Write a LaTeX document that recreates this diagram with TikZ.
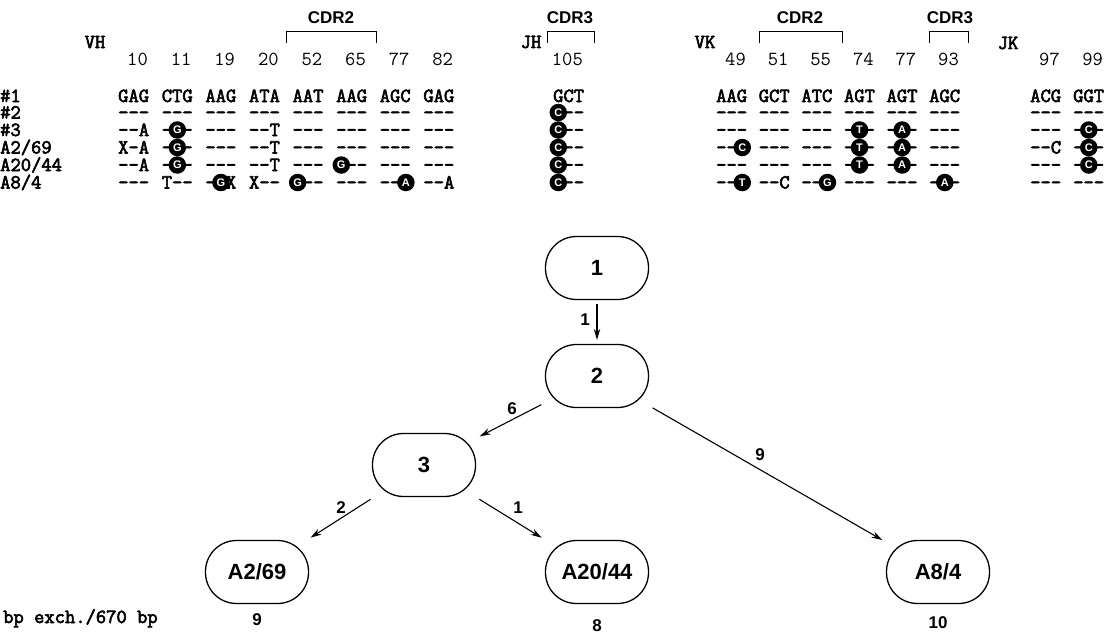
\documentclass[tikz,border=0pt]{standalone}
\usepackage{fontspec}
\setsansfont{Liberation Sans}
\newfontfamily\tybold{Latin Modern Mono}[FakeBold=3]
\usetikzlibrary{arrows.meta}
\begin{document}
\begin{tikzpicture}[x=1pt,y=-1pt,
  cod/.style={font=\tybold\fontsize{20}{22}\selectfont, inner sep=0pt, anchor=base west},
  num/.style={font=\ttfamily\fontsize{20}{22}\selectfont, inner sep=0pt, anchor=base east},
  lab/.style={font=\tybold\fontsize{20}{22}\selectfont, inner sep=0pt},
  cdr/.style={font=\sffamily\bfseries\fontsize{17}{17}\selectfont, inner sep=0pt},
  brk/.style={line width=1pt},
  mut/.style={circle, fill=black, inner sep=0pt, minimum size=17.5pt, text=white, font=\sffamily\bfseries\fontsize{11}{11}\selectfont},
  tree/.style={draw, line width=1.3pt, rounded corners=31pt, minimum width=103pt, minimum height=63pt, inner sep=0pt, font=\sffamily\bfseries\fontsize{22}{22}\selectfont},
  arr/.style={line width=1.1pt, -{Stealth[length=11pt,width=6.5pt]}, shorten <=4pt, shorten >=4pt},
  elab/.style={font=\sffamily\bfseries\fontsize{17}{17}\selectfont, inner sep=0pt}]
\useasboundingbox (0,0) rectangle (1107,632);
% column left edges
\def\cA{118}\def\cB{161.6}\def\cC{205.2}\def\cD{248.8}\def\cE{292.4}\def\cF{336}\def\cG{379.6}\def\cH{423.2}
\def\jA{553}
\def\kA{716}\def\kB{758.6}\def\kC{801.2}\def\kD{843.8}\def\kE{886.4}\def\kF{929}
\def\mA{1030}\def\mB{1073}
% row centres
\def\rA{96}\def\rB{112.5}\def\rC{130}\def\rD{147.5}\def\rE{165}\def\rF{182.5}
\newcommand\cd[3]{\node[cod] at (#1,#2+6) {#3};}
\newcommand\mt[4]{\node[mut] at ({#1+(#2-0.5)*10.5},#3) {#4};}
\newcommand\nm[2]{\node[num] at (#1+30,65) {#2};}
% headings
\node[lab] (vh) at (95,42) {VH};
\node[lab] (jh) at (531,42) {JH};
\node[lab] (vk) at (705,42) {VK};
\node[lab] (jk) at (1008,43) {JK};
\draw[brk] (286,43) -- (286,31) -- (376,31) -- (376,43);
\node[cdr] (cdr2h) at (331,18) {CDR2};
\draw[brk] (547,43) -- (547,31) -- (594,31) -- (594,43);
\node[cdr] (cdr3h) at (570,18) {CDR3};
\draw[brk] (759,43) -- (759,31) -- (842,31) -- (842,43);
\node[cdr] (cdr2k) at (800,18) {CDR2};
\draw[brk] (929,43) -- (929,31) -- (968,31) -- (968,43);
\node[cdr] (cdr3k) at (950,18) {CDR3};
% numbers
\nm{\cA}{10}\nm{\cB}{11}\nm{\cC}{19}\nm{\cD}{20}\nm{\cE}{52}\nm{\cF}{65}\nm{\cG}{77}\nm{\cH}{82}
\nm{\jA}{105}
\nm{\kA}{49}\nm{\kB}{51}\nm{\kC}{55}\nm{\kD}{74}\nm{\kE}{77}\nm{\kF}{93}
\nm{\mA}{97}\nm{\mB}{99}
% row labels
\node[cod] at (0,\rA+6) {\#1};
\node[cod] at (0,\rB+6) {\#2};
\node[cod] at (0,\rC+6) {\#3};
\node[cod] at (0,\rD+6) {A2/69};
\node[cod] at (0,\rE+6) {A20/44};
\node[cod] at (0,\rF+6) {A8/4};
% row #1
\cd{\cA}{\rA}{GAG}\cd{\cB}{\rA}{CTG}\cd{\cC}{\rA}{AAG}\cd{\cD}{\rA}{ATA}\cd{\cE}{\rA}{AAT}\cd{\cF}{\rA}{AAG}\cd{\cG}{\rA}{AGC}\cd{\cH}{\rA}{GAG}
\cd{\jA}{\rA}{GCT}
\cd{\kA}{\rA}{AAG}\cd{\kB}{\rA}{GCT}\cd{\kC}{\rA}{ATC}\cd{\kD}{\rA}{AGT}\cd{\kE}{\rA}{AGT}\cd{\kF}{\rA}{AGC}
\cd{\mA}{\rA}{ACG}\cd{\mB}{\rA}{GGT}
% row #2
\foreach \c in {\cA,\cB,\cC,\cD,\cE,\cF,\cG,\cH,\jA,\kA,\kB,\kC,\kD,\kE,\kF,\mA,\mB} {\cd{\c}{\rB}{---}}
\mt{\jA}{1}{\rB}{C}
% row #3
\cd{\cA}{\rC}{--A}\cd{\cB}{\rC}{---}\cd{\cC}{\rC}{---}\cd{\cD}{\rC}{--T}\cd{\cE}{\rC}{---}\cd{\cF}{\rC}{---}\cd{\cG}{\rC}{---}\cd{\cH}{\rC}{---}
\cd{\jA}{\rC}{---}
\foreach \c in {\kA,\kB,\kC,\kD,\kE,\kF,\mA,\mB} {\cd{\c}{\rC}{---}}
\mt{\cB}{2}{\rC}{G}\mt{\jA}{1}{\rC}{C}\mt{\kD}{2}{\rC}{T}\mt{\kE}{2}{\rC}{A}\mt{\mB}{2}{\rC}{C}
% row A2/69
\cd{\cA}{\rD}{X-A}\cd{\cB}{\rD}{---}\cd{\cC}{\rD}{---}\cd{\cD}{\rD}{--T}\cd{\cE}{\rD}{---}\cd{\cF}{\rD}{---}\cd{\cG}{\rD}{---}\cd{\cH}{\rD}{---}
\cd{\jA}{\rD}{---}
\foreach \c in {\kA,\kB,\kC,\kD,\kE,\kF,\mB} {\cd{\c}{\rD}{---}}
\cd{\mA}{\rD}{--C}
\mt{\cB}{2}{\rD}{G}\mt{\jA}{1}{\rD}{C}\mt{\kA}{3}{\rD}{C}\mt{\kD}{2}{\rD}{T}\mt{\kE}{2}{\rD}{A}\mt{\mB}{2}{\rD}{C}
% row A20/44
\cd{\cA}{\rE}{--A}\cd{\cB}{\rE}{---}\cd{\cC}{\rE}{---}\cd{\cD}{\rE}{--T}\cd{\cE}{\rE}{---}\cd{\cF}{\rE}{---}\cd{\cG}{\rE}{---}\cd{\cH}{\rE}{---}
\cd{\jA}{\rE}{---}
\foreach \c in {\kA,\kB,\kC,\kD,\kE,\kF,\mA,\mB} {\cd{\c}{\rE}{---}}
\mt{\cB}{2}{\rE}{G}\mt{\cF}{1}{\rE}{G}\mt{\jA}{1}{\rE}{C}\mt{\kD}{2}{\rE}{T}\mt{\kE}{2}{\rE}{A}\mt{\mB}{2}{\rE}{C}
% row A8/4
\cd{\cA}{\rF}{---}\cd{\cB}{\rF}{T--}\cd{\cC}{\rF}{--X}\cd{\cD}{\rF}{X--}\cd{\cE}{\rF}{---}\cd{\cF}{\rF}{---}\cd{\cG}{\rF}{---}\cd{\cH}{\rF}{--A}
\cd{\jA}{\rF}{---}
\cd{\kA}{\rF}{---}\cd{\kB}{\rF}{--C}\cd{\kC}{\rF}{---}\cd{\kD}{\rF}{---}\cd{\kE}{\rF}{---}\cd{\kF}{\rF}{---}
\cd{\mA}{\rF}{---}\cd{\mB}{\rF}{---}
\mt{\cC}{2}{\rF}{G}\mt{\cE}{1}{\rF}{G}\mt{\cG}{3}{\rF}{A}\mt{\jA}{1}{\rF}{C}\mt{\kA}{3}{\rF}{T}\mt{\kC}{3}{\rF}{G}\mt{\kF}{2}{\rF}{A}
% tree
\node[tree] (n1) at (597,268) {1};
\node[tree] (n2) at (597,376) {2};
\node[tree] (n3) at (424,465) {3};
\node[tree] (a269) at (257,572) {A2/69};
\node[tree] (a2044) at (597,572) {A20/44};
\node[tree] (a84) at (938,572) {A8/4};
\draw[arr] (n1) -- (n2);
\draw[arr] (n2) -- (n3);
\draw[arr] (n2) -- (a84);
\draw[arr] (n3) -- (a269);
\draw[arr] (n3) -- (a2044);
\node[elab] at (585,320) {1};
\node[elab] at (512,409) {6};
\node[elab] at (760,455) {9};
\node[elab] at (341,508) {2};
\node[elab] at (518,508) {1};
% bottom line
\node[cod] (bp) at (3,623) {bp exch./670 bp};
\node[elab, anchor=base] at (257,625) {9};
\node[elab, anchor=base] at (597,631) {8};
\node[elab, anchor=base] at (938,628) {10};
\end{tikzpicture}
\end{document}
